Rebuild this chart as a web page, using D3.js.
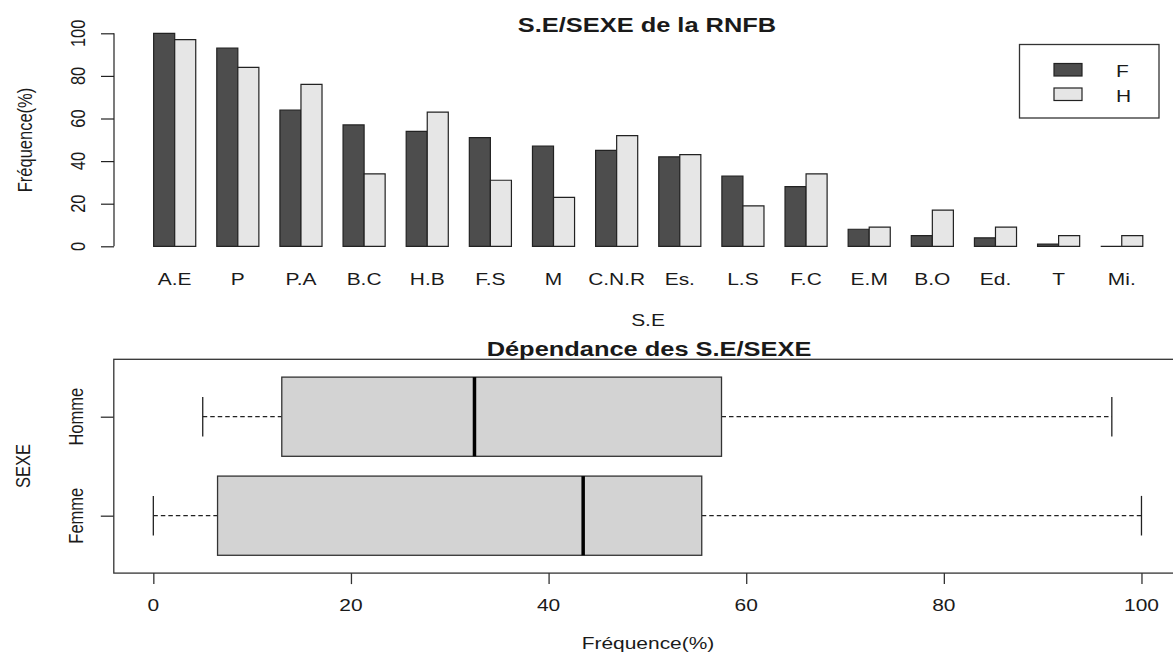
<!DOCTYPE html>
<html>
<head>
<meta charset="utf-8">
<script src="https://cdn.jsdelivr.net/npm/d3@7"></script>
<style>
  html, body { margin: 0; padding: 0; background: #fff; overflow: hidden; }
  svg { display: block; }
  text { font-family: "Liberation Sans", Arial, sans-serif; fill: #1a1a1a; }
</style>
</head>
<body>
<script>
// ---------- data ----------
const categories = ["A.E","P","P.A","B.C","H.B","F.S","M","C.N.R","Es.","L.S","F.C","E.M","B.O","Ed.","T","Mi."];
const femmes = [100, 93, 64, 57, 54, 51, 47, 45, 42, 33, 28, 8, 5, 4, 1, 0];
const hommes = [97, 84, 76, 34, 63, 31, 23, 52, 43, 19, 34, 9, 17, 9, 5, 5];
const seriesNames = ["F", "H"];
const seriesColors = ["#4d4d4d", "#e6e6e6"];
const barTicks = [0, 20, 40, 60, 80, 100];
const boxGroups = ["Femme", "Homme"];
const boxTicks = [0, 20, 40, 60, 80, 100];
const title1 = "S.E/SEXE de la RNFB";
const title2 = "Dépendance des S.E/SEXE";
const yLabel1 = "Fréquence(%)";
const xLabel1 = "S.E";
const xLabel2 = "Fréquence(%)";
const yLabel2 = "SEXE";

// ---------- setup ----------
const W = 1173, H = 654;
const SX = 1.27; // horizontal stretch of the reference
const svg = d3.select("body").append("svg").attr("width", W).attr("height", H);

function txt(g, x, y, s, o = {}) {
  const t = g.append("text")
    .attr("transform", `translate(${x},${y}) scale(${SX},1)` + (o.rot ? ` rotate(${o.rot})` : ""))
    .attr("text-anchor", o.anchor || "middle")
    .attr("font-size", o.size || 16.5)
    .attr("font-weight", o.weight || "normal")
    .text(s);
  if (o.dy) t.attr("dy", o.dy);
  return t;
}

// ---------- top: grouped barplot ----------
const gTop = svg.append("g");
const xu = d3.scaleLinear().domain([0, 48]).range([132.6, 1142.8]);
const y1 = d3.scaleLinear().domain([0, 100]).range([246.3, 33.3]);

const barData = [];
categories.forEach((c, i) => {
  [femmes[i], hommes[i]].forEach((v, j) => {
    barData.push({ c, i, j, v });
  });
});
gTop.selectAll("path.bar").data(barData).enter().append("path")
  .attr("class", "bar")
  .attr("d", d => {
    const x0 = xu(1 + 3 * d.i + d.j), x1 = xu(2 + 3 * d.i + d.j);
    return `M${x0},${y1(0)}V${y1(d.v)}H${x1}V${y1(0)}Z`;
  })
  .attr("fill", d => seriesColors[d.j])
  .attr("stroke", "#222")
  .attr("stroke-width", 1.2);

// y axis
const yAx = gTop.append("g").attr("transform", "translate(114,0)")
  .call(d3.axisLeft(y1).tickValues(barTicks).tickSize(13).tickFormat(""));
yAx.select(".domain").attr("d", `M0,${y1(0)}V${y1(100)}`).attr("stroke", "#222").attr("stroke-width", 1.2);
yAx.selectAll(".tick line").attr("stroke", "#222").attr("stroke-width", 1.2);
barTicks.forEach(t => txt(gTop, 77, y1(t), String(t), { rot: -90, dy: "0.36em" }));

// category labels
categories.forEach((c, i) => txt(gTop, xu(2 + 3 * i), 285, c));

txt(gTop, 647, 31.5, title1, { size: 20, weight: "bold" });
txt(gTop, 648, 326, xLabel1);
txt(gTop, 24, 140, yLabel1, { rot: -90, dy: "0.36em" });

// legend
const leg = gTop.append("g");
leg.append("rect").attr("x", 1019.5).attr("y", 44.5).attr("width", 139.5).attr("height", 73.5)
  .attr("fill", "#fff").attr("stroke", "#333").attr("stroke-width", 1.3);
seriesNames.forEach((s, j) => {
  leg.append("rect").attr("x", 1054).attr("y", 63.5 + j * 24.5).attr("width", 28).attr("height", 12.5)
    .attr("fill", seriesColors[j]).attr("stroke", "#222").attr("stroke-width", 1.2);
  txt(leg, 1116, 76.5 + j * 25, s, { anchor: "start" });
});

// ---------- bottom: horizontal boxplot ----------
const gBot = svg.append("g");
const xb = d3.scaleLinear().domain([-4, 104]).range([113.8, 1181]);
const yb = d3.scaleLinear().domain([0.42, 2.58]).range([573.1, 359.3]);

function fivenum(arr) {
  const s = arr.slice().sort((a, b) => a - b);
  const n = s.length;
  const n4 = Math.floor((n + 3) / 2) / 2;
  const idx = [1, n4, (n + 1) / 2, n + 1 - n4, n];
  return idx.map(k => 0.5 * (s[Math.floor(k) - 1] + s[Math.ceil(k) - 1]));
}
const boxData = [femmes, hommes].map((arr, k) => {
  const f = fivenum(arr);
  const iqr = f[3] - f[1];
  const inside = arr.filter(v => v >= f[1] - 1.5 * iqr && v <= f[3] + 1.5 * iqr);
  return { name: boxGroups[k], pos: k + 1, lo: d3.min(inside), q1: f[1], med: f[2], q3: f[3], hi: d3.max(inside) };
});

// frame
gBot.append("rect").attr("x", xb(-4)).attr("y", yb(2.58)).attr("width", xb(104) - xb(-4)).attr("height", yb(0.42) - yb(2.58))
  .attr("fill", "none").attr("stroke", "#333").attr("stroke-width", 1.3);

const bw = 0.4, staple = 0.2;
const bx = gBot.selectAll("g.box").data(boxData).enter().append("g").attr("class", "box");
bx.append("line").attr("x1", d => xb(d.lo)).attr("x2", d => xb(d.q1)).attr("y1", d => yb(d.pos)).attr("y2", d => yb(d.pos))
  .attr("stroke", "#222").attr("stroke-width", 1.3).attr("stroke-dasharray", "4.5,3");
bx.append("line").attr("x1", d => xb(d.q3)).attr("x2", d => xb(d.hi)).attr("y1", d => yb(d.pos)).attr("y2", d => yb(d.pos))
  .attr("stroke", "#222").attr("stroke-width", 1.3).attr("stroke-dasharray", "4.5,3");
bx.append("line").attr("x1", d => xb(d.lo)).attr("x2", d => xb(d.lo)).attr("y1", d => yb(d.pos + staple)).attr("y2", d => yb(d.pos - staple))
  .attr("stroke", "#222").attr("stroke-width", 1.3);
bx.append("line").attr("x1", d => xb(d.hi)).attr("x2", d => xb(d.hi)).attr("y1", d => yb(d.pos + staple)).attr("y2", d => yb(d.pos - staple))
  .attr("stroke", "#222").attr("stroke-width", 1.3);
bx.append("rect").attr("x", d => xb(d.q1)).attr("width", d => xb(d.q3) - xb(d.q1))
  .attr("y", d => yb(d.pos + bw)).attr("height", d => yb(d.pos - bw) - yb(d.pos + bw))
  .attr("fill", "#d3d3d3").attr("stroke", "#333").attr("stroke-width", 1.3);
bx.append("line").attr("x1", d => xb(d.med)).attr("x2", d => xb(d.med)).attr("y1", d => yb(d.pos + bw)).attr("y2", d => yb(d.pos - bw))
  .attr("stroke", "#000").attr("stroke-width", 3.5);

// x axis
const xAx = gBot.append("g").attr("transform", `translate(0,${yb(0.42)})`)
  .call(d3.axisBottom(xb).tickValues(boxTicks).tickSize(11).tickFormat(""));
xAx.select(".domain").remove();
xAx.selectAll(".tick line").attr("stroke", "#333").attr("stroke-width", 1.3);
boxTicks.forEach(t => txt(gBot, xb(t), 611, String(t)));

// y axis
const yAx2 = gBot.append("g").attr("transform", `translate(${xb(-4)},0)`)
  .call(d3.axisLeft(yb).tickValues([1, 2]).tickSize(13).tickFormat(""));
yAx2.select(".domain").remove();
yAx2.selectAll(".tick line").attr("stroke", "#333").attr("stroke-width", 1.3);
boxGroups.forEach((g, k) => txt(gBot, 75, yb(k + 1), g, { rot: -90, dy: "0.36em" }));

txt(gBot, 649, 355.5, title2, { size: 20, weight: "bold" });
txt(gBot, 648, 649, xLabel2);
txt(gBot, 22, 466, yLabel2, { rot: -90, dy: "0.36em" });
</script>
</body>
</html>
